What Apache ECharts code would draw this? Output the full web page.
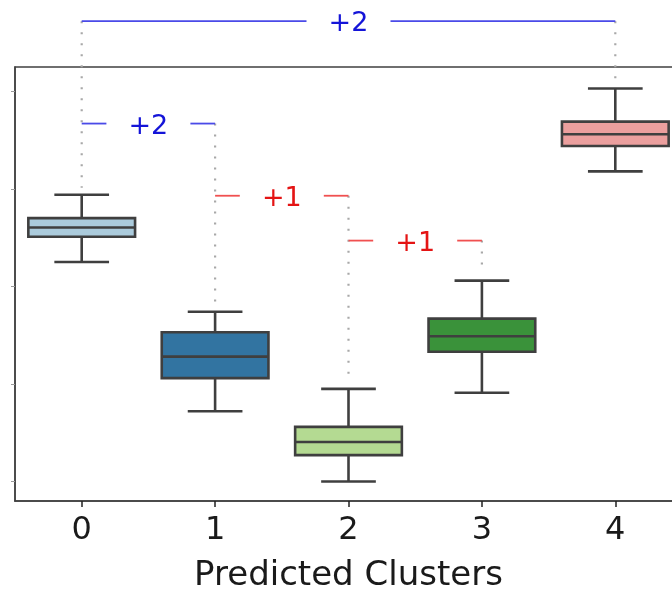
<!DOCTYPE html>
<html>
<head>
<meta charset="utf-8">
<script src="https://cdn.jsdelivr.net/npm/echarts@6/dist/echarts.min.js"></script>
<style>
html,body{margin:0;padding:0;background:#fff;overflow:hidden;}
#chart{width:672px;height:592px;}
</style>
</head>
<body>
<div id="chart"></div>
<script>
// ---- data ----
const categories = ['0', '1', '2', '3', '4'];
const whiskerLow  = [2.25, 0.72, 0.00, 0.91, 3.18];
const q1          = [2.51, 1.06, 0.27, 1.33, 3.44];
const median      = [2.605, 1.28, 0.405, 1.49, 3.56];
const q3          = [2.70, 1.53, 0.56, 1.67, 3.69];
const whiskerHigh = [2.94, 1.74, 0.95, 2.06, 4.03];
const yTicks = [0, 1, 2, 3, 4];
const bracketStart = [0, 0, 1, 2];
const bracketEnd   = [4, 1, 2, 3];
const bracketLevel = [4.72, 3.67, 2.93, 2.47];
const bracketLabel = ['+2', '+2', '+1', '+1'];
const xName = 'Predicted Clusters';

// ---- styles ----
const boxColors = ['#abcbdc', '#3274a1', '#b4da92', '#3a923a', '#eb9f9e'];
const edge = '#3f3f3f';
const FONT = 'DejaVu Sans';

const boxData = categories.map((c, i) => [i, whiskerLow[i], q1[i], median[i], q3[i], whiskerHigh[i]]);
const bracketData = bracketStart.map((s, i) => [s, bracketEnd[i], bracketLevel[i], i]);
// dotted connectors: per category, from highest bracket touching it down to whisker top
const connData = [];
categories.forEach((c, i) => {
  let top = null;
  bracketStart.forEach((s, k) => {
    if (s === i || bracketEnd[k] === i) top = top === null ? bracketLevel[k] : Math.max(top, bracketLevel[k]);
  });
  if (top !== null) connData.push([i, top, whiskerHigh[i]]);
});

const chart = echarts.init(document.getElementById('chart'), null, {renderer: 'canvas'});
chart.setOption({
  animation: false,
  grid: {left: 15, top: 67, width: 667, height: 434, outerBoundsMode: 'none', containLabel: false,
    show: true, borderColor: '#404040', borderWidth: 1.5, backgroundColor: 'transparent'},
  xAxis: {
    type: 'category', data: categories, boundaryGap: true,
    axisLine: {show: true, onZero: false, lineStyle: {color: '#404040', width: 1.5}},
    axisTick: {show: true, alignWithLabel: true, length: 6, lineStyle: {color: '#222', width: 1.5}},
    axisLabel: {fontSize: 32, fontFamily: FONT, color: '#1a1a1a', margin: 14},
    name: xName, nameLocation: 'middle', nameGap: 58,
    nameTextStyle: {fontSize: 34, fontFamily: FONT, color: '#1a1a1a'}
  },
  yAxis: {
    type: 'value', min: -0.2, max: 4.25,
    axisLine: {show: true, onZero: false, lineStyle: {color: '#404040', width: 1.5}},
    axisTick: {show: true, length: 4, customValues: yTicks, lineStyle: {color: '#999', width: 1}},
    axisLabel: {show: false},
    splitLine: {show: false}
  },
  series: [
    {
      type: 'custom', data: boxData, z: 3,
      encode: {x: 0, y: [1, 2, 3, 4, 5]},
      renderItem: function (params, api) {
        const x = api.value(0);
        const band = api.size([1, 0])[0];
        const hw = band * 0.4, cw = band * 0.205;
        const pLow = api.coord([x, api.value(1)]);
        const pQ1 = api.coord([x, api.value(2)]);
        const pMed = api.coord([x, api.value(3)]);
        const pQ3 = api.coord([x, api.value(4)]);
        const pHigh = api.coord([x, api.value(5)]);
        const cx = pMed[0];
        const ls = {stroke: edge, lineWidth: 2.6};
        return {
          type: 'group',
          children: [
            {type: 'line', shape: {x1: cx, y1: pHigh[1], x2: cx, y2: pQ3[1]}, style: ls},
            {type: 'line', shape: {x1: cx, y1: pQ1[1], x2: cx, y2: pLow[1]}, style: ls},
            {type: 'line', shape: {x1: cx - cw, y1: pHigh[1], x2: cx + cw, y2: pHigh[1]}, style: ls},
            {type: 'line', shape: {x1: cx - cw, y1: pLow[1], x2: cx + cw, y2: pLow[1]}, style: ls},
            {type: 'rect', shape: {x: cx - hw, y: pQ3[1], width: hw * 2, height: pQ1[1] - pQ3[1]},
              style: {fill: boxColors[params.dataIndex], stroke: edge, lineWidth: 2.6}},
            {type: 'line', shape: {x1: cx - hw, y1: pMed[1], x2: cx + hw, y2: pMed[1]}, style: ls}
          ]
        };
      }
    },
    {
      type: 'custom', data: connData, z: 4, clip: false,
      encode: {x: 0, y: [1, 2]},
      renderItem: function (params, api) {
        const x = api.value(0);
        const pTop = api.coord([x, api.value(1)]);
        const pBot = api.coord([x, api.value(2)]);
        return {
          type: 'line',
          shape: {x1: pTop[0], y1: pTop[1], x2: pTop[0], y2: pBot[1] - 7},
          style: {stroke: '#a8a8a8', lineWidth: 2.2, lineDash: [2, 9]}
        };
      }
    },
    {
      type: 'custom', data: bracketData, z: 5, clip: false,
      encode: {x: [0, 1], y: 2},
      renderItem: function (params, api) {
        const p1 = api.coord([api.value(0), api.value(2)]);
        const p2 = api.coord([api.value(1), api.value(2)]);
        const label = bracketLabel[api.value(3)];
        const isTwo = label === '+2';
        const lineColor = isTwo ? '#4a4ae8' : '#f05050';
        const textColor = isTwo ? '#1414d8' : '#e41414';
        const mid = (p1[0] + p2[0]) / 2;
        const gap = 42;
        const y = p1[1];
        return {
          type: 'group',
          children: [
            {type: 'line', shape: {x1: p1[0], y1: y, x2: mid - gap, y2: y}, style: {stroke: lineColor, lineWidth: 1.8}},
            {type: 'line', shape: {x1: mid + gap, y1: y, x2: p2[0], y2: y}, style: {stroke: lineColor, lineWidth: 1.8}},
            {type: 'text', x: mid, y: y + 3,
              style: {text: label, fill: textColor, font: '27px "' + FONT + '"', align: 'center', verticalAlign: 'middle'}}
          ]
        };
      }
    }
  ]
});
</script>
</body>
</html>
